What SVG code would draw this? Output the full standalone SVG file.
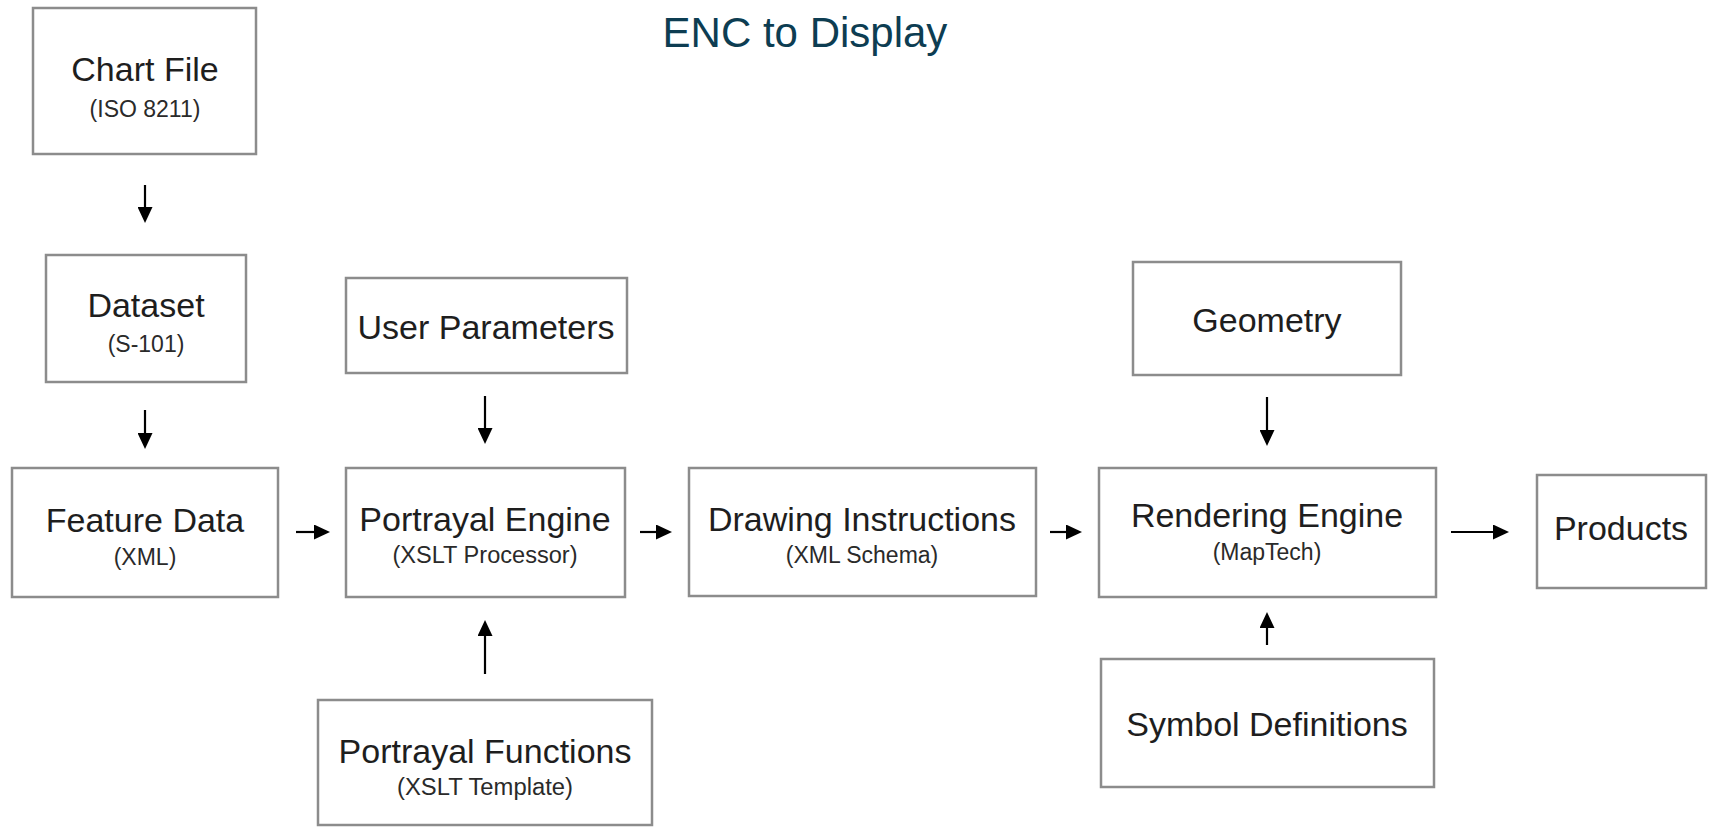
<svg xmlns="http://www.w3.org/2000/svg" width="1709" height="827" viewBox="0 0 1709 827">
<style>
.box{fill:#fff;stroke:#8c8c8c;stroke-width:2.5}
.main{font-family:"Liberation Sans",Arial,Helvetica,sans-serif;font-size:34px;fill:#1e1e1e;text-anchor:middle}
.sub{font-family:"Liberation Sans",Arial,Helvetica,sans-serif;font-size:23px;fill:#2a2a2a;text-anchor:middle}
.title{font-family:"Liberation Sans",Arial,Helvetica,sans-serif;font-size:42px;fill:#0d3d52;text-anchor:middle}
.conn{stroke:#000;stroke-width:2.2;fill:none;marker-end:url(#ah)}
</style>
<defs>
<marker id="ah" markerUnits="userSpaceOnUse" markerWidth="16" markerHeight="15" refX="5" refY="7.5" orient="auto">
<path d="M0,0 L16,7.5 L0,15 z" fill="#000"/>
</marker>
</defs>
<rect width="1709" height="827" fill="#fff"/>
<text class="title" x="805" y="47">ENC to Display</text>

<g id="chart-file">
<rect class="box" x="33" y="8" width="223" height="146"/>
<text class="main" x="145" y="81">Chart File</text>
<text class="sub" x="145" y="117">(ISO 8211)</text>
</g>
<g id="dataset">
<rect class="box" x="46" y="255" width="200" height="127"/>
<text class="main" x="146" y="317">Dataset</text>
<text class="sub" x="146" y="352">(S-101)</text>
</g>
<g id="feature-data">
<rect class="box" x="12" y="468" width="266" height="129"/>
<text class="main" x="145" y="532">Feature Data</text>
<text class="sub" x="145" y="565">(XML)</text>
</g>
<g id="user-parameters">
<rect class="box" x="346" y="278" width="281" height="95"/>
<text class="main" x="486" y="339">User Parameters</text>
</g>
<g id="portrayal-engine">
<rect class="box" x="346" y="468" width="279" height="129"/>
<text class="main" x="485" y="531">Portrayal Engine</text>
<text class="sub" x="485" y="563" textLength="185" lengthAdjust="spacingAndGlyphs">(XSLT Processor)</text>
</g>
<g id="portrayal-functions">
<rect class="box" x="318" y="700" width="334" height="125"/>
<text class="main" x="485" y="763">Portrayal Functions</text>
<text class="sub" x="485" y="795" textLength="176" lengthAdjust="spacingAndGlyphs">(XSLT Template)</text>
</g>
<g id="drawing-instructions">
<rect class="box" x="689" y="468" width="347" height="128"/>
<text class="main" x="862" y="531">Drawing Instructions</text>
<text class="sub" x="862" y="563">(XML Schema)</text>
</g>
<g id="geometry">
<rect class="box" x="1133" y="262" width="268" height="113"/>
<text class="main" x="1267" y="332">Geometry</text>
</g>
<g id="rendering-engine">
<rect class="box" x="1099" y="468" width="337" height="129"/>
<text class="main" x="1267" y="527">Rendering Engine</text>
<text class="sub" x="1267" y="560">(MapTech)</text>
</g>
<g id="symbol-definitions">
<rect class="box" x="1101" y="659" width="333" height="128"/>
<text class="main" x="1267" y="736">Symbol Definitions</text>
</g>
<g id="products">
<rect class="box" x="1537" y="475" width="169" height="113"/>
<text class="main" x="1621" y="540">Products</text>
</g>

<g id="connectors">
<line class="conn" x1="145" y1="185" x2="145" y2="212"/>
<line class="conn" x1="145" y1="410" x2="145" y2="438"/>
<line class="conn" x1="296" y1="532" x2="319" y2="532"/>
<line class="conn" x1="485" y1="396" x2="485" y2="433"/>
<line class="conn" x1="485" y1="674" x2="485" y2="631"/>
<line class="conn" x1="640" y1="532" x2="661" y2="532"/>
<line class="conn" x1="1050" y1="532" x2="1071" y2="532"/>
<line class="conn" x1="1267" y1="397" x2="1267" y2="435"/>
<line class="conn" x1="1267" y1="645" x2="1267" y2="623"/>
<line class="conn" x1="1451" y1="532" x2="1498" y2="532"/>
</g>
</svg>
